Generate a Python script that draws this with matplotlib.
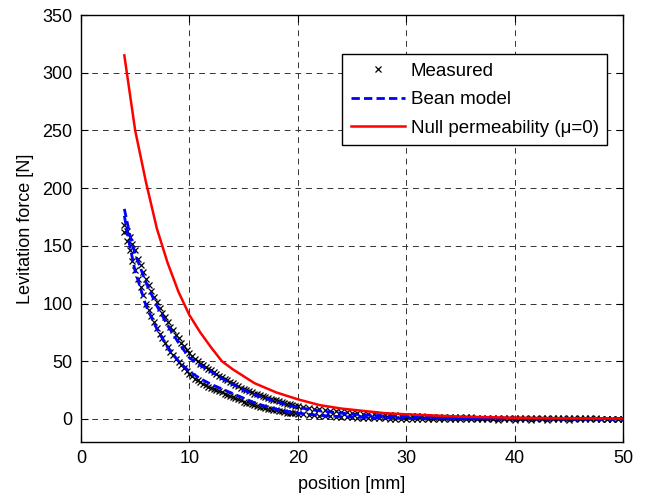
import matplotlib
matplotlib.use("Agg")
import matplotlib.pyplot as plt

plt.rcParams["font.family"] = ["Liberation Sans", "DejaVu Sans"]

# measured positions [mm]
pos = [4.0, 4.25, 4.5, 4.75, 5.0, 5.25, 5.5, 5.75, 6.0, 6.25, 6.5, 6.75,
       7.0, 7.25, 7.5, 7.75, 8.0, 8.25, 8.5, 8.75, 9.0, 9.25, 9.5, 9.75,
       10.0, 10.25, 10.5, 10.75, 11.0, 11.25, 11.5, 11.75, 12.0, 12.25, 12.5, 12.75,
       13.0, 13.25, 13.5, 13.75, 14.0, 14.25, 14.5, 14.75, 15.0, 15.25, 15.5, 15.75,
       16.0, 16.25, 16.5, 16.75, 17.0, 17.25, 17.5, 17.75, 18.0, 18.25, 18.5, 18.75,
       19.0, 19.25, 19.5, 19.75, 20.0,
       20.5, 21.0, 21.5, 22.0, 22.5, 23.0, 23.5, 24.0, 24.5, 25.0, 25.5, 26.0,
       26.5, 27.0, 27.5, 28.0, 28.5, 29.0, 29.5, 30.0, 30.5, 31.0, 31.5, 32.0,
       32.5, 33.0, 33.5, 34.0, 34.5, 35.0, 35.5, 36.0, 36.5, 37.0, 37.5, 38.0,
       38.5, 39.0, 39.5, 40.0, 40.5, 41.0, 41.5, 42.0, 42.5, 43.0, 43.5, 44.0,
       44.5, 45.0, 45.5, 46.0, 46.5, 47.0, 47.5, 48.0, 48.5, 49.0, 49.5, 50.0]

meas_up = [168, 163, 158, 152, 146, 139, 133, 127, 121, 116, 111, 106,
           101, 96, 92, 88, 84, 80, 77, 73, 70, 66, 63, 60,
           57, 54.5, 52, 50, 48, 46.5, 45, 43.5, 42, 40.5, 39, 37.5,
           36, 34.7, 33.5, 32.2, 31, 29.7, 28.5, 27.2, 26, 25, 24, 23,
           22, 21.2, 20.5, 19.7, 19, 18.2, 17.5, 16.7, 16, 15.2, 14.5, 13.7,
           13, 12.5, 12, 11.5, 11,
           10.2, 9.5, 8.8, 8.2, 7.6, 7.1, 6.6, 6.1, 5.7, 5.3, 4.9, 4.6,
           4.3, 4.0, 3.7, 3.5, 3.2, 3.0, 2.8, 2.6, 2.5, 2.3, 2.2, 2.0,
           1.9, 1.8, 1.7, 1.6, 1.5, 1.4, 1.3, 1.3, 1.2, 1.1, 1.1, 1.0,
           1.0, 0.9, 0.9, 0.8, 0.8, 0.7, 0.7, 0.7, 0.6, 0.6, 0.6, 0.5,
           0.5, 0.5, 0.5, 0.4, 0.4, 0.4, 0.4, 0.3, 0.3, 0.3, 0.3, 0.3]

meas_dn = [162, 154, 146, 137, 129, 121, 114, 107, 100, 94, 89, 84,
           79, 74, 70, 66, 62, 58, 55, 52, 49, 46.5, 44, 41.5,
           39, 37, 35, 33.5, 32, 30.5, 29, 28, 27, 26, 25, 24,
           23, 22, 21, 20, 19, 18, 17, 16, 15, 14.2, 13.5, 12.7,
           12, 11.2, 10.5, 10, 9.5, 9, 8.5, 8, 7.5, 7, 6.5, 6,
           5.5, 5.2, 5.0, 4.7, 4.5,
           4.0, 3.6, 3.2, 2.8, 2.5, 2.2, 1.9, 1.7, 1.5, 1.3, 1.1, 0.9,
           0.8, 0.6, 0.5, 0.4, 0.3, 0.2, 0.1, 0.0, -0.1, -0.1, -0.2, -0.2,
           -0.3, -0.3, -0.3, -0.4, -0.4, -0.4, -0.4, -0.5, -0.5, -0.5, -0.5, -0.5,
           -0.6, -0.5, -0.5, -0.6, -0.5, -0.5, -0.6, -0.5, -0.5, -0.6, -0.5, -0.5,
           -0.5, -0.6, -0.5, -0.5, -0.5, -0.5, -0.5, -0.5, -0.5, -0.4, -0.4, -0.3]

# Bean model, both branches
bean_x = [4, 4.5, 5, 6, 7, 8, 9, 10, 11, 12, 13, 14, 15, 16, 17, 18, 19, 20,
          22, 24, 26, 28, 30, 35, 40, 45, 50]
bean_up = [182, 160, 143, 118, 98, 81, 66, 53, 46.5, 41, 35, 30, 25, 21, 18, 15, 12, 10,
           7, 5, 3.5, 2.5, 2, 1, 0.6, 0.4, 0.3]
bean_dn = [176, 150, 128, 98, 78, 62, 50, 41, 35, 30, 26, 22, 18, 14, 11, 8.5, 6.5, 5,
           3, 2, 1.3, 0.8, 0.5, 0.1, 0, -0.2, -0.3]

# null permeability model
null_x = [4, 5, 6, 7, 8, 9, 10, 11, 12, 13, 14, 15, 16, 18, 20, 22, 24, 26, 28,
          30, 35, 40, 45, 50]
null_f = [315, 250, 205, 165, 135, 110, 90, 75, 62, 50, 43, 37, 31, 23, 17, 12, 9, 7, 5,
          4, 2, 1, 0.5, 0.3]

fig = plt.figure(figsize=(6.61, 5.0), dpi=100)
ax = fig.add_axes([0.1225, 0.116, 0.82, 0.854])

ax.plot(pos, meas_up, "x", color="black", markersize=4.5, markeredgewidth=0.9,
        label="Measured")
ax.plot(pos, meas_dn, "x", color="black", markersize=4.5, markeredgewidth=0.9)
ax.plot(bean_x, bean_up, "--", color="blue", linewidth=2, dashes=(3, 1.5),
        label="Bean model")
ax.plot(bean_x, bean_dn, "--", color="blue", linewidth=2, dashes=(3, 1.5))
ax.plot(null_x, null_f, "-", color="red", linewidth=1.8,
        label="Null permeability (\u03bc=0)")

ax.set_xlim(0, 50)
ax.set_ylim(-20, 350)
ax.set_xticks(range(0, 51, 10))
ax.set_yticks(range(0, 351, 50))
ax.grid(True, color="#333333", linestyle=(0, (6, 5)), linewidth=0.7)
ax.tick_params(direction="in", top=True, right=True, length=5, labelsize=13,
               pad=6)
for sp in ax.spines.values():
    sp.set_linewidth(1.0)

ax.set_xlabel("position [mm]", fontsize=13, labelpad=6)
ax.set_ylabel("Levitation force [N]", fontsize=13, labelpad=6)

leg = ax.legend(loc="upper right", bbox_to_anchor=(0.9705, 0.9087), fontsize=13.5,
                fancybox=False, edgecolor="black", framealpha=1,
                handlelength=2.9, borderpad=0.45, labelspacing=0.62,
                handletextpad=0.3, borderaxespad=0)
leg.get_frame().set_linewidth(1.0)

fig.savefig("out.png", dpi=100)
